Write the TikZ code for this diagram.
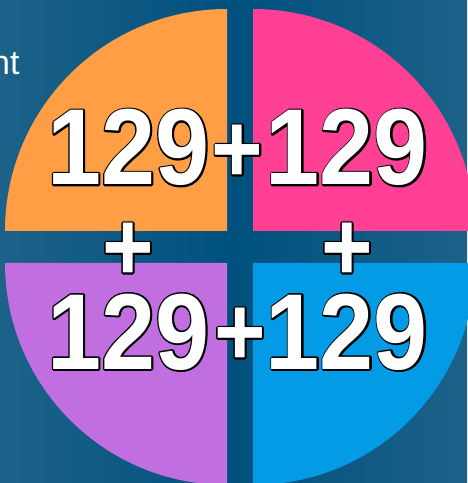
\documentclass[tikz,border=0pt]{standalone}
\usepackage{fontspec}
\setmainfont{Liberation Sans}
\newfontfamily\cifras[FakeStretch=0.9]{Liberation Sans}
\definecolor{fondoborde}{RGB}{28,98,137}
\definecolor{fondocentro}{RGB}{0,80,126}
\definecolor{naranja}{RGB}{255,158,68}
\definecolor{rosa}{RGB}{255,64,148}
\definecolor{lila}{RGB}{192,110,224}
\definecolor{celeste}{RGB}{3,155,229}
% Texto blanco con borde negro: trazo debajo, relleno encima
\newcommand{\borde}[1]{\rlap{\special{pdf:literal direct 1 Tr 3.4 w 1 j 0 0 0 RG}#1\special{pdf:literal direct 0 Tr}}#1}
\tikzset{
  numero/.style={inner sep=0pt, text=white, font=\cifras\bfseries\fontsize{108}{108}\selectfont},
  signo/.style={inner sep=0pt, anchor=base, text=white, font=\cifras\bfseries\fontsize{98}{98}\selectfont},
}

\begin{document}
\begin{tikzpicture}[x=1pt, y=1pt]
  % Fondo
  \useasboundingbox (0,0) rectangle (467,483);
  \shade[left color=fondoborde, right color=fondoborde, middle color=fondocentro] (0,0) rectangle (467,483);
  % Cuadrantes
  \fill[naranja] (227,252) -- (5,252) arc[start angle=180, end angle=90, radius=222] -- cycle;
  \fill[rosa] (253,252) -- (253,474) arc[start angle=90, end angle=0, radius=222] -- cycle;
  \fill[lila] (227,220) -- (227,-2) arc[start angle=270, end angle=180, radius=222] -- cycle;
  \fill[celeste] (253,220) -- (475,220) arc[start angle=0, end angle=-90, radius=222] -- cycle;
  % Texto cortado
  \node[anchor=base east, text=white, font=\fontsize{34}{34}\selectfont] (titulo) at (23,408) {nt};
  % Sumandos
  \node[numero] (sumaA) at (128.5,335.5) {\borde{129}};
  \node[numero] (sumaB) at (347,335.5) {\borde{129}};
  \node[numero] (sumaC) at (128.5,151) {\borde{129}};
  \node[numero] (sumaD) at (347,151) {\borde{129}};
  % Signos
  \node[signo] (masAB) at (237.5,300.5) {\borde{+}};
  \node[signo] (masCD) at (240,117.5) {\borde{+}};
  \node[signo] (masAC) at (128,202.5) {\borde{+}};
  \node[signo] (masBD) at (347,202.5) {\borde{+}};
\end{tikzpicture}
\end{document}
